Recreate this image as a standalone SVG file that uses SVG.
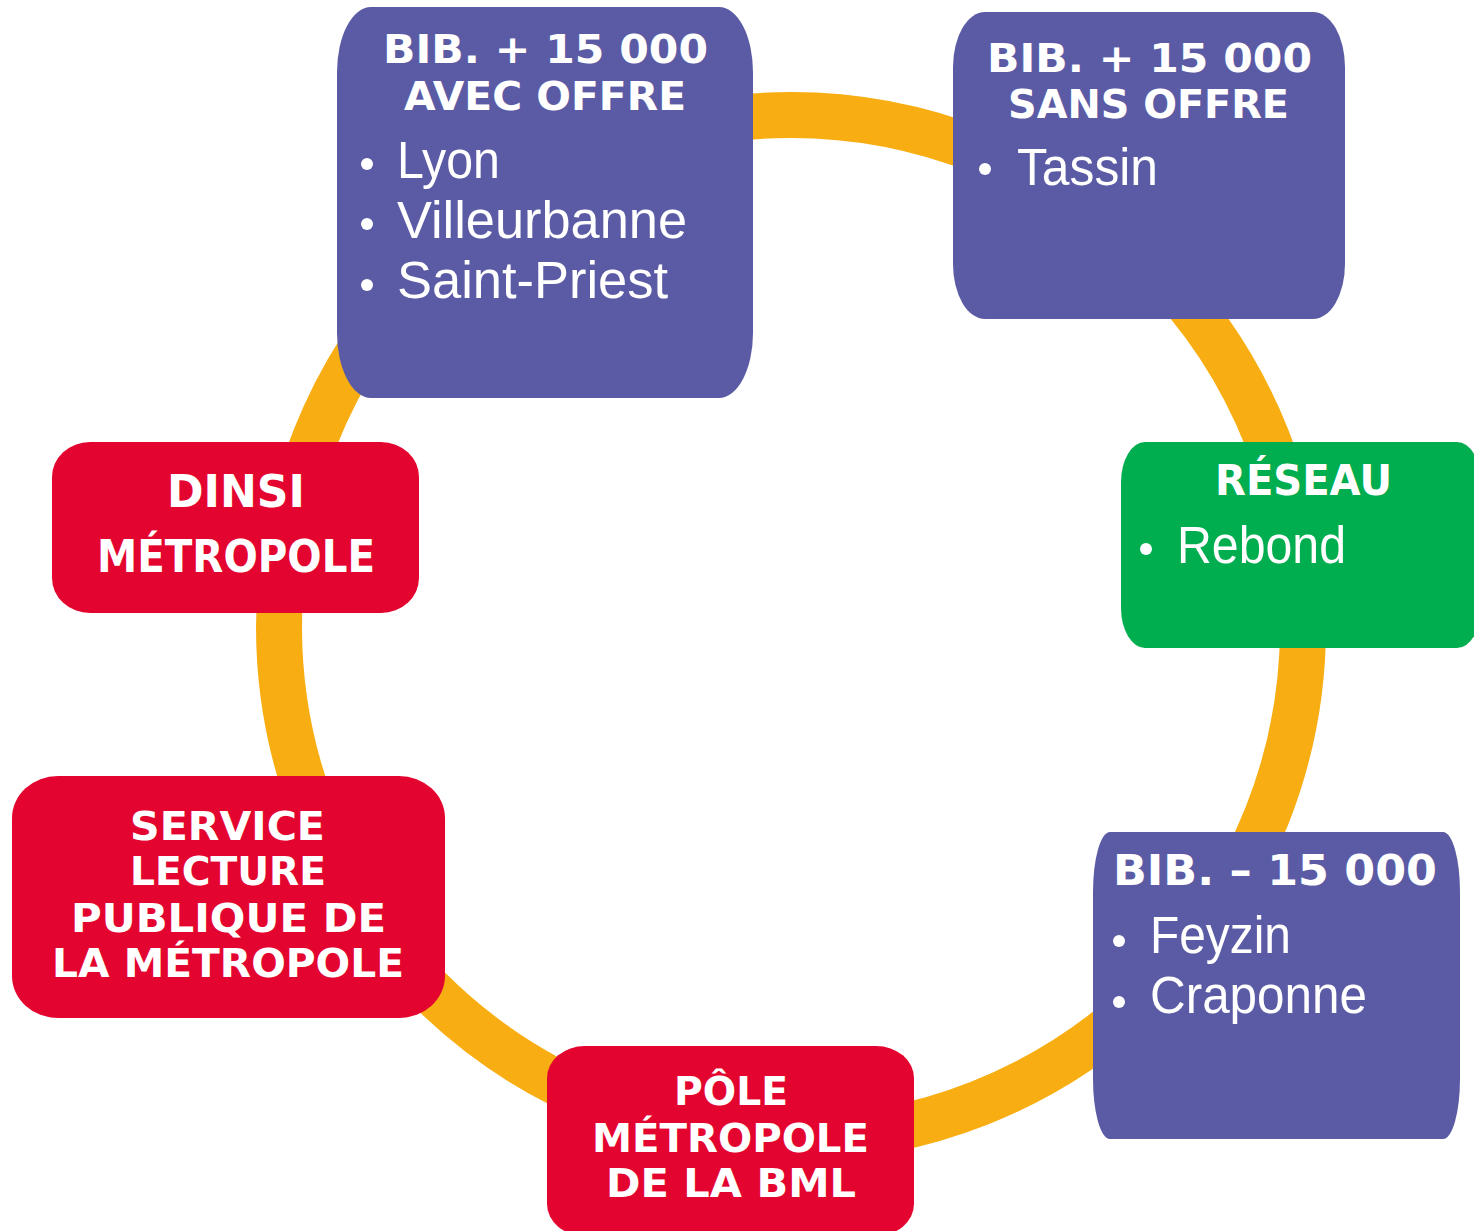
<svg xmlns="http://www.w3.org/2000/svg" width="1474" height="1231" viewBox="0 0 1474 1231">
<style>
.purple{fill:#5b5ba5}
.red{fill:#e3052f}
.green{fill:#00ad4f}
.ring{fill:none;stroke:#f8ae12;stroke-width:46}
.h{font-family:"DejaVu Sans","Liberation Sans",sans-serif;font-weight:bold;fill:#fff;font-size:39px}
.b{font-family:"Liberation Sans","Noto Sans",sans-serif;fill:#fff;font-size:51px}
.dot{fill:#fff}
</style>
<rect width="1474" height="1231" fill="#fff"/>
<g id="connectors">
<circle class="ring" cx="791" cy="627" r="512"/>
</g>
<g id="node-bib-avec">
<rect class="purple" x="337" y="7" width="416" height="391" rx="34" ry="65"/>
<text class="h" x="383" y="63" textLength="325" lengthAdjust="spacingAndGlyphs">BIB. + 15 000</text>
<text class="h" x="404" y="110" textLength="282" lengthAdjust="spacingAndGlyphs">AVEC OFFRE</text>
<circle class="dot" cx="367" cy="164" r="6"/>
<text class="b" x="397" y="178" textLength="103" lengthAdjust="spacingAndGlyphs">Lyon</text>
<circle class="dot" cx="367" cy="224" r="6"/>
<text class="b" x="397" y="238" textLength="290" lengthAdjust="spacingAndGlyphs">Villeurbanne</text>
<circle class="dot" cx="367" cy="285" r="6"/>
<text class="b" x="397" y="298" textLength="271" lengthAdjust="spacingAndGlyphs">Saint-Priest</text>
</g>
<g id="node-bib-sans">
<rect class="purple" x="953" y="12" width="392" height="307" rx="32" ry="55"/>
<text class="h" x="987" y="72" textLength="325" lengthAdjust="spacingAndGlyphs">BIB. + 15 000</text>
<text class="h" x="1008" y="118" textLength="281" lengthAdjust="spacingAndGlyphs">SANS OFFRE</text>
<circle class="dot" cx="985" cy="169" r="6"/>
<text class="b" x="1017" y="185" textLength="141" lengthAdjust="spacingAndGlyphs">Tassin</text>
</g>
<g id="node-reseau">
<rect class="green" x="1121" y="442" width="360" height="206" rx="24" ry="40"/>
<text class="h" x="1215" y="495" textLength="177" lengthAdjust="spacingAndGlyphs" style="font-size:42px">RÉSEAU</text>
<circle class="dot" cx="1146" cy="549" r="6"/>
<text class="b" x="1177" y="563" textLength="169" lengthAdjust="spacingAndGlyphs">Rebond</text>
</g>
<g id="node-bib-moins">
<rect class="purple" x="1093" y="832" width="367" height="307" rx="17" ry="60"/>
<text class="h" x="1113" y="885" textLength="324" lengthAdjust="spacingAndGlyphs" style="font-size:42px">BIB. – 15 000</text>
<circle class="dot" cx="1119" cy="941" r="6"/>
<text class="b" x="1150" y="953" textLength="141" lengthAdjust="spacingAndGlyphs">Feyzin</text>
<circle class="dot" cx="1119" cy="1002" r="6"/>
<text class="b" x="1150" y="1013" textLength="217" lengthAdjust="spacingAndGlyphs">Craponne</text>
</g>
<g id="node-pole">
<rect class="red" x="547" y="1046" width="367" height="190" rx="38" ry="32"/>
<text class="h" x="674" y="1105" textLength="114" lengthAdjust="spacingAndGlyphs">PÔLE</text>
<text class="h" x="592" y="1152" textLength="277" lengthAdjust="spacingAndGlyphs">MÉTROPOLE</text>
<text class="h" x="606" y="1197" textLength="250" lengthAdjust="spacingAndGlyphs">DE LA BML</text>
</g>
<g id="node-service">
<rect class="red" x="12" y="776" width="433" height="242" rx="46" ry="42"/>
<text class="h" x="130" y="840" textLength="195" lengthAdjust="spacingAndGlyphs" style="font-size:38.5px">SERVICE</text>
<text class="h" x="130" y="885" textLength="196" lengthAdjust="spacingAndGlyphs" style="font-size:38.5px">LECTURE</text>
<text class="h" x="71" y="932" textLength="315" lengthAdjust="spacingAndGlyphs" style="font-size:38.5px">PUBLIQUE DE</text>
<text class="h" x="52" y="977" textLength="352" lengthAdjust="spacingAndGlyphs" style="font-size:38.5px">LA MÉTROPOLE</text>
</g>
<g id="node-dinsi">
<rect class="red" x="52" y="442" width="367" height="171" rx="38" ry="35"/>
<text class="h" x="167" y="507" textLength="138" lengthAdjust="spacingAndGlyphs" style="font-size:45px">DINSI</text>
<text class="h" x="97" y="572" textLength="278" lengthAdjust="spacingAndGlyphs" style="font-size:45px">MÉTROPOLE</text>
</g>
</svg>
